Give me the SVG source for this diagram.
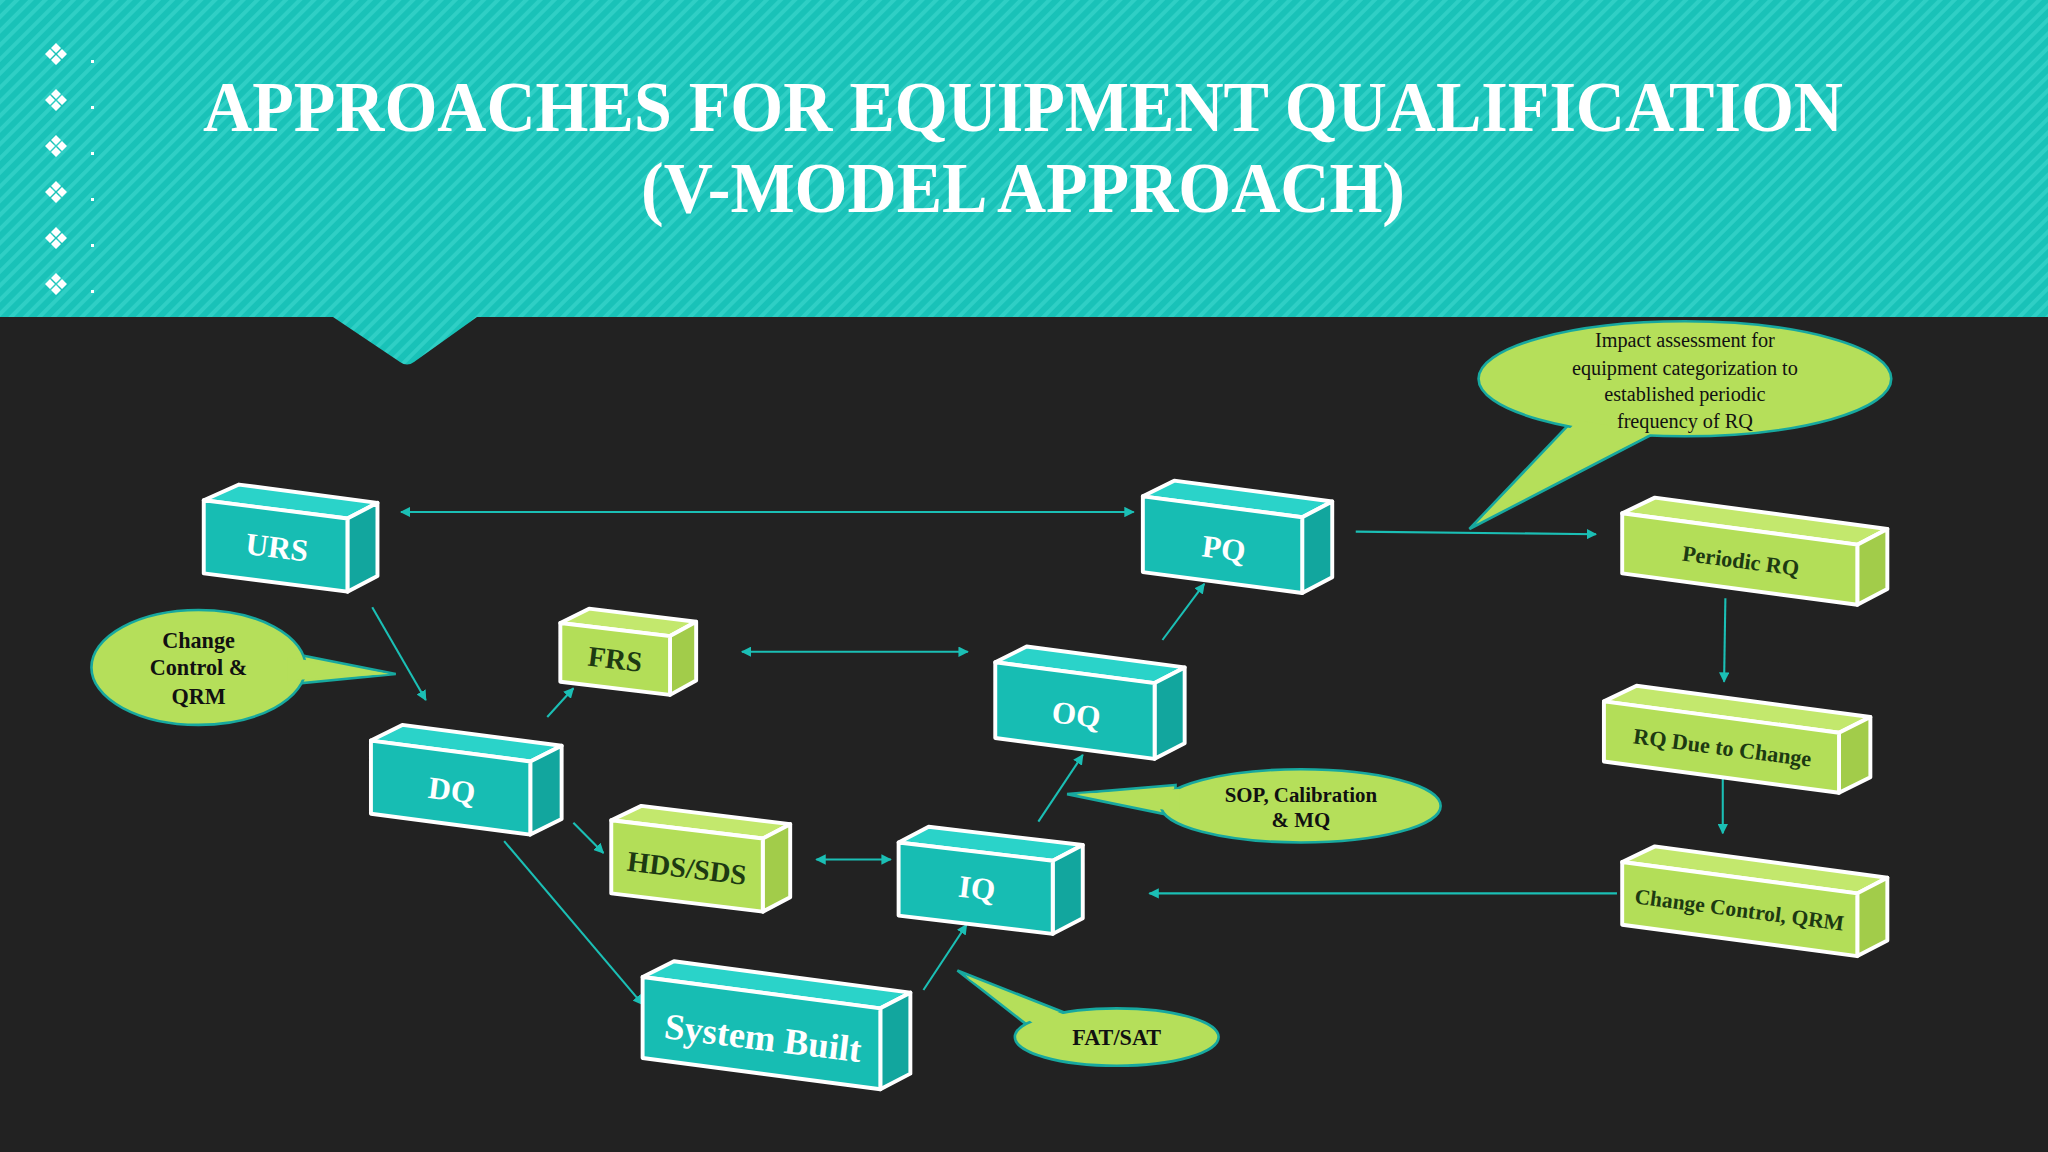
<svg xmlns="http://www.w3.org/2000/svg" width="2048" height="1152" viewBox="0 0 2048 1152">
<defs>
<pattern id="str" width="10" height="10" patternUnits="userSpaceOnUse" patternTransform="rotate(45)">
<rect width="10" height="10" fill="#19c2b8"/><rect width="4" height="10" fill="#2fcfc5"/>
</pattern>
<marker id="ah" viewBox="0 0 10 10" refX="9" refY="5" markerWidth="5" markerHeight="5" orient="auto-start-reverse"><path d="M0,0 L10,5 L0,10 z" fill="#1bbfb5"/></marker>
<g id="dia"><path d="M0,-7 L5,-2 L0,3 L-5,-2 z M-6,-1 L-1,4 L-6,9 L-11,4 z M6,-1 L11,4 L6,9 L1,4 z M0,5 L5,10 L0,15 L-5,10 z" fill="#fff"/></g>
</defs>
<style>
.tf{fill:#17bdb3;stroke:#fff;stroke-width:3;stroke-linejoin:round}
.tt{fill:#2ad3c9;stroke:#fff;stroke-width:3;stroke-linejoin:round}
.ts{fill:#12a69e;stroke:#fff;stroke-width:3;stroke-linejoin:round}
.gf{fill:#b3de58;stroke:#fff;stroke-width:3;stroke-linejoin:round}
.gt{fill:#c3e86d;stroke:#fff;stroke-width:3;stroke-linejoin:round}
.gs{fill:#a2cc4a;stroke:#fff;stroke-width:3;stroke-linejoin:round}
.wt{font-family:"Liberation Serif",serif;font-weight:bold;fill:#fff;text-anchor:middle}
.dt{font-family:"Liberation Serif",serif;font-weight:bold;fill:#1d3a12;text-anchor:middle}
.co{fill:#b5df5a;stroke:#17a89f;stroke-width:2}
.tl{fill:#b5df5a;stroke:none}
.ct{font-family:"Liberation Serif",serif;fill:#111;text-anchor:middle}
.cn line{stroke:#1bbfb5;stroke-width:1.6;marker-end:url(#ah)}
</style>
<rect width="2048" height="1152" fill="#222222"/>
<path d="M0,0 H2048 V317 H477 L414,362 Q407,367 400,362 L333,317 H0 z" fill="url(#str)"/>
<g id="bullets">
<use href="#dia" x="56" y="50"/><use href="#dia" x="56" y="96"/><use href="#dia" x="56" y="142"/><use href="#dia" x="56" y="188"/><use href="#dia" x="56" y="234"/><use href="#dia" x="56" y="280"/>
<g fill="#fff"><rect x="91" y="60" width="3" height="3"/><rect x="91" y="106" width="3" height="3"/><rect x="91" y="152" width="3" height="3"/><rect x="91" y="198" width="3" height="3"/><rect x="91" y="244" width="3" height="3"/><rect x="91" y="290" width="3" height="3"/></g>
</g>
<g id="title" font-family="Liberation Serif,serif" font-weight="bold" fill="#fff" text-anchor="middle" font-size="72">
<text x="1023" y="131" textLength="1640" lengthAdjust="spacingAndGlyphs">APPROACHES FOR EQUIPMENT QUALIFICATION</text>
<text x="1023" y="212" textLength="764" lengthAdjust="spacingAndGlyphs">(V-MODEL APPROACH)</text>
</g>
<g transform="scale(1.30612)">
<g class="cn" id="connectors">
<line x1="307" y1="392" x2="868" y2="392" marker-start="url(#ah)"/>
<line x1="1038" y1="407" x2="1222" y2="409"/>
<line x1="1321" y1="458" x2="1320" y2="522"/>
<line x1="1319" y1="595" x2="1319" y2="638"/>
<line x1="1238" y1="684" x2="880" y2="684"/>
<line x1="285" y1="465" x2="326" y2="536"/>
<line x1="419" y1="549" x2="439" y2="527"/>
<line x1="568" y1="499" x2="741" y2="499" marker-start="url(#ah)"/>
<line x1="890" y1="490" x2="922" y2="447"/>
<line x1="439" y1="630" x2="462" y2="653"/>
<line x1="625" y1="658" x2="682" y2="658" marker-start="url(#ah)"/>
<line x1="795" y1="629" x2="829" y2="578"/>
<line x1="386" y1="644" x2="492" y2="769"/>
<line x1="707" y1="758" x2="740" y2="708"/>
</g>
<g id="URS"><polygon class="tt" points="156,383 183,371 289,385 266,397"/><polygon class="ts" points="266,397 289,385 289,441 266,453"/><polygon class="tf" points="156,383 266,397 266,453 156,439"/><text class="wt" font-size="24" transform="translate(211,427) rotate(7)">URS</text></g>
<g id="PQ"><polygon class="tt" points="875,380 899,368 1020,384 997,396"/><polygon class="ts" points="997,396 1020,384 1020,442 997,454"/><polygon class="tf" points="875,380 997,396 997,454 875,438"/><text class="wt" font-size="24" transform="translate(936,428) rotate(7)">PQ</text></g>
<g id="FRS"><polygon class="gt" points="429,477 451,466 533,476 513,487"/><polygon class="gs" points="513,487 533,476 533,521 513,532"/><polygon class="gf" points="429,477 513,487 513,532 429,522"/><text class="dt" font-size="22" transform="translate(470,512) rotate(7)">FRS</text></g>
<g id="OQ"><polygon class="tt" points="762,507 786,495 907,511 884,523"/><polygon class="ts" points="884,523 907,511 907,569 884,581"/><polygon class="tf" points="762,507 884,523 884,581 762,565"/><text class="wt" font-size="24" transform="translate(823,555) rotate(7)">OQ</text></g>
<g id="DQ"><polygon class="tt" points="284,567 308,555 430,571 406,583"/><polygon class="ts" points="406,583 430,571 430,627 406,639"/><polygon class="tf" points="284,567 406,583 406,639 284,623"/><text class="wt" font-size="24" transform="translate(345,613) rotate(7)">DQ</text></g>
<g id="HDS"><polygon class="gt" points="468,628 491,617 605,631 584,642"/><polygon class="gs" points="584,642 605,631 605,687 584,698"/><polygon class="gf" points="468,628 584,642 584,698 468,684"/><text class="dt" font-size="22" transform="translate(525,672) rotate(7)">HDS/SDS</text></g>
<g id="IQ"><polygon class="tt" points="688,645 711,633 829,647 806,659"/><polygon class="ts" points="806,659 829,647 829,703 806,715"/><polygon class="tf" points="688,645 806,659 806,715 688,701"/><text class="wt" font-size="24" transform="translate(747,688) rotate(7)">IQ</text></g>
<g id="SystemBuilt"><polygon class="tt" points="492,748 516,736 697,760 674,772"/><polygon class="ts" points="674,772 697,760 697,822 674,834"/><polygon class="tf" points="492,748 674,772 674,834 492,810"/><text class="wt" font-size="28" transform="translate(583,804) rotate(7)">System Built</text></g>
<g id="PeriodicRQ"><polygon class="gt" points="1242,393 1267,381 1445,405 1422,417"/><polygon class="gs" points="1422,417 1445,405 1445,451 1422,463"/><polygon class="gf" points="1242,393 1422,417 1422,463 1242,439"/><text class="dt" font-size="17" transform="translate(1332,435) rotate(7.5)">Periodic RQ</text></g>
<g id="RQDue"><polygon class="gt" points="1228,537 1253,525 1432,549 1408,561"/><polygon class="gs" points="1408,561 1432,549 1432,595 1408,607"/><polygon class="gf" points="1228,537 1408,561 1408,607 1228,583"/><text class="dt" font-size="17" transform="translate(1318,578) rotate(7.5)">RQ Due to Change</text></g>
<g id="CCQRM"><polygon class="gt" points="1242,660 1267,648 1445,672 1422,684"/><polygon class="gs" points="1422,684 1445,672 1445,720 1422,732"/><polygon class="gf" points="1242,660 1422,684 1422,732 1242,708"/><text class="dt" font-size="16.5" transform="translate(1331,702) rotate(7.5)">Change Control, QRM</text></g>
<g id="callout-cc"><polygon class="co" points="222,500 303,516 222,524"/><ellipse class="co" cx="152" cy="511" rx="82" ry="44"/><polygon class="tl" points="220,503 298,516 220,521"/><g class="ct" font-weight="bold" font-size="17"><text x="152" y="496">Change</text><text x="152" y="517">Control &amp;</text><text x="152" y="539">QRM</text></g></g>
<g id="callout-sop"><polygon class="co" points="900,601 817,608 900,625"/><ellipse class="co" cx="996" cy="617" rx="107" ry="28"/><polygon class="tl" points="903,604 824,608 903,622"/><g class="ct" font-weight="bold" font-size="16"><text x="996" y="614">SOP, Calibration</text><text x="996" y="633">&amp; MQ</text></g></g>
<g id="callout-fat"><polygon class="co" points="788,786 733,743 822,778"/><ellipse class="co" cx="855" cy="794" rx="78" ry="22"/><polygon class="tl" points="792,784 740,748 818,778"/><text class="ct" font-weight="bold" font-size="17" x="855" y="800">FAT/SAT</text></g>
<g id="callout-impact"><polygon class="co" points="1204,322 1125,405 1270,330"/><ellipse class="co" cx="1290" cy="290" rx="158" ry="44"/><polygon class="tl" points="1208,322 1135,396 1266,331"/><g class="ct" font-size="15.5"><text x="1290" y="266">Impact  assessment  for</text><text x="1290" y="287">equipment  categorization  to</text><text x="1290" y="307">established  periodic</text><text x="1290" y="328">frequency  of RQ</text></g></g>
</g>
</svg>
